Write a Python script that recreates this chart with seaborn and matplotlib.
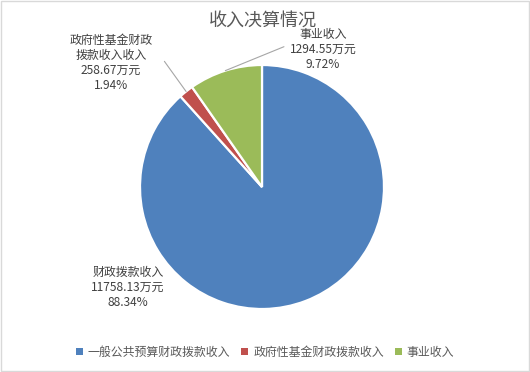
import numpy as np
import matplotlib
matplotlib.use("Agg")
import matplotlib.pyplot as plt
from matplotlib.patches import Rectangle
import seaborn as sns

# data
legend_names = ['一般公共预算财政拨款收入', '政府性基金财政拨款收入', '事业收入']
slice_labels = ['财政拨款收入', '政府性基金财政\n拨款收入收入', '事业收入']
amounts = [11758.13, 258.67, 1294.55]
percents = [88.34, 1.94, 9.72]
colors = ['#4F81BD', '#C0504D', '#9BBB59']

sns.set_style('white')
plt.rcParams['font.family'] = ['Noto Sans CJK SC', 'DejaVu Sans']

fig = plt.figure(figsize=(5.3, 3.72), dpi=100)
fig.patches.append(Rectangle((0.002, 0.003), 0.996, 0.994, transform=fig.transFigure,
                             fill=False, edgecolor='#D9D9D9', linewidth=1))

ax = fig.add_axes([140 / 530, 63 / 372, 244 / 530, 244 / 372])
wedges, _ = ax.pie(percents, colors=colors, startangle=90, counterclock=False,
                   radius=1, wedgeprops=dict(edgecolor='white', linewidth=1.6))
ax.set_xlim(-1, 1)
ax.set_ylim(-1, 1)
ax.set_aspect('equal')
ax.axis('off')

txt_color = '#404040'
# label positions in axes data units (relative to pie radius)
label_pos = [(-1.10, -0.82), (-1.24, 1.02), (0.50, 1.13)]
leader = [False, True, True]
line_start = [None, (-0.80, 1.03), (0.18, 1.15)]

for i, w in enumerate(wedges):
    text = f'{slice_labels[i]}\n{amounts[i]:.2f}万元\n{percents[i]:.2f}%'
    ax.text(label_pos[i][0], label_pos[i][1], text, ha='center', va='center',
            fontsize=8.6, color=txt_color, linespacing=1.2, clip_on=False)
    if leader[i]:
        ang = np.deg2rad((w.theta1 + w.theta2) / 2)
        ex, ey = np.cos(ang), np.sin(ang)
        ax.plot([line_start[i][0], ex], [line_start[i][1], ey], color='#A6A6A6',
                linewidth=0.8, clip_on=False)

fig.text(0.496, 0.945, '收入决算情况', ha='center', va='center', fontsize=13, color='#595959')

handles = [Rectangle((0, 0), 1, 1, facecolor=c, edgecolor='none') for c in colors]
fig.legend(handles, legend_names, loc='center', bbox_to_anchor=(0.5, 0.053), ncol=3,
           frameon=False, fontsize=8.6, handlelength=0.6, handleheight=0.6,
           handletextpad=0.4, columnspacing=0.9, labelcolor='#595959')

fig.savefig('out.png', dpi=100)
